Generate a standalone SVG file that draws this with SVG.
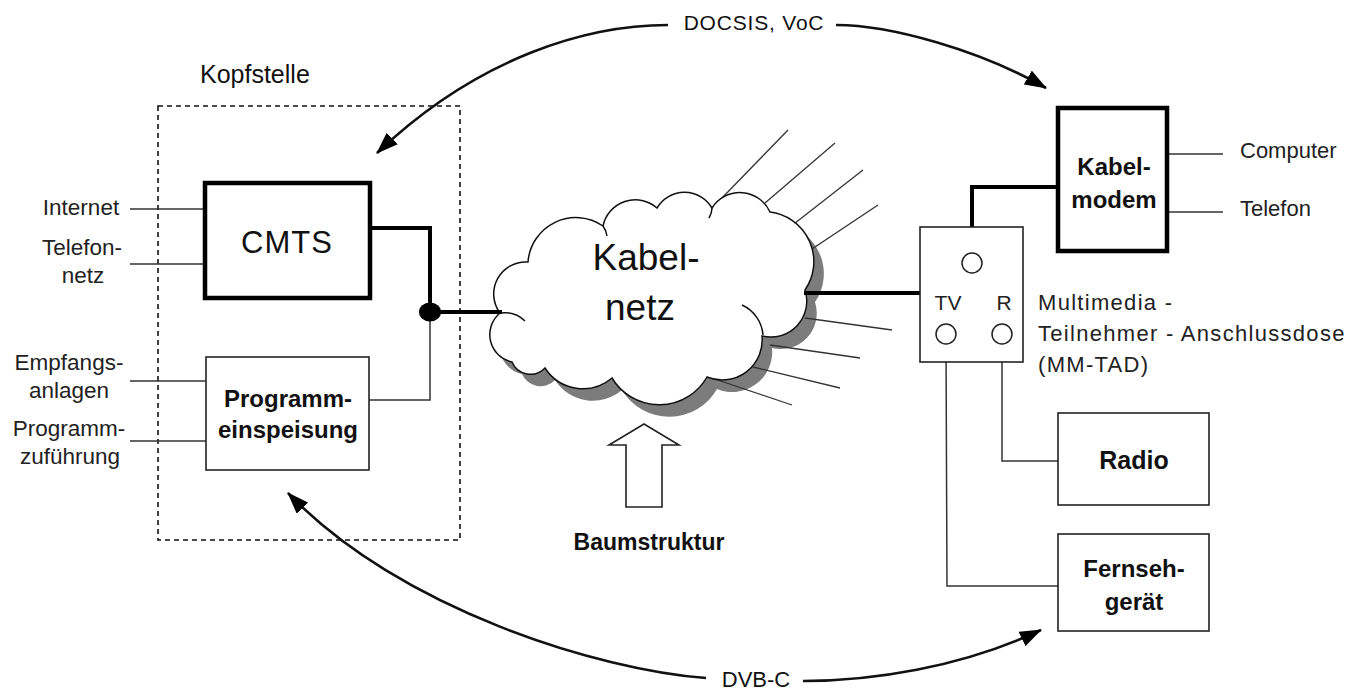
<svg xmlns="http://www.w3.org/2000/svg" width="1356" height="690" viewBox="0 0 1356 690">
<style>
text{font-family:"Liberation Sans",Arial,sans-serif;fill:#111}
.lbl{font-size:22.5px;text-anchor:middle;fill:#222}
.b{font-weight:bold;text-anchor:middle}
.thin{fill:none;stroke:#333;stroke-width:1.5}
.thick{fill:none;stroke:#000;stroke-width:4}
.box{fill:#fff;stroke:#222;stroke-width:1.6}
.tbox{fill:#fff;stroke:#000;stroke-width:4.5}
.ray{stroke:#333;stroke-width:1.3}
.arc{fill:none;stroke:#111;stroke-width:2.6;marker-end:url(#ah)}
</style>
<defs>
<marker id="ah" markerUnits="userSpaceOnUse" markerWidth="22" markerHeight="16" refX="21" refY="8" orient="auto">
<path d="M0,0 L22,8 L0,16 z" fill="#000"/>
</marker>
<path id="cloudShape" d="M512,362 A28,28 0 0 1 500,313 A32,32 0 0 1 528,262 A48,48 0 0 1 603,226 A33,33 0 0 1 657,208 A32,32 0 0 1 712,208 A33,33 0 0 1 770,212 A50,50 0 0 1 805,290 A36,36 0 0 1 762,336 A40,40 0 0 1 707,377 A55,55 0 0 1 612,378 A45,45 0 0 1 545,368 A20,20 0 0 1 512,362 Z"/>
</defs>

<rect fill="#fff" x="0" y="0" width="1356" height="690"/>

<!-- Kopfstelle -->
<g id="kopfstelle">
<rect x="158" y="106" width="302" height="434" fill="none" stroke="#111" stroke-width="1.6" stroke-dasharray="5 4"/>
<text x="200" y="83" style="font-size:25px">Kopfstelle</text>
</g>

<!-- Cloud -->
<g id="kabelnetz">
<use href="#cloudShape" transform="translate(10,12)" fill="#7c7c7c"/>
<g class="ray">
<line x1="720" y1="200" x2="788" y2="130"/>
<line x1="765" y1="203" x2="835" y2="143"/>
<line x1="790" y1="227" x2="863" y2="170"/>
<line x1="800" y1="257" x2="878" y2="205"/>
<line x1="805" y1="318" x2="892" y2="330"/>
<line x1="770" y1="345" x2="860" y2="358"/>
<line x1="753" y1="367" x2="840" y2="388"/>
<line x1="703" y1="375" x2="792" y2="405"/>
</g>
<use href="#cloudShape" fill="#fff" stroke="#111" stroke-width="1.5"/>
<path d="M500,313 A30,30 0 0 1 525,321 M742,305 A36,36 0 0 1 763,335 M603,226 A20,20 0 0 1 607,236 M712,208 A20,20 0 0 1 709,218" fill="none" stroke="#111" stroke-width="1.5"/>
<text class="b" x="646" y="270" style="font-size:37px;font-weight:normal">Kabel-</text>
<text class="b" x="640" y="320" style="font-size:37px;font-weight:normal">netz</text>
</g>

<!-- Baumstruktur arrow -->
<g id="baumstruktur">
<path d="M644,424 L679,445 L662,445 L662,507 L626,507 L626,445 L609,445 Z" fill="#fff" stroke="#222" stroke-width="1.6"/>
<text class="b" x="649" y="550" style="font-size:23px">Baumstruktur</text>
</g>

<!-- Connectors -->
<g id="connectors">
<line class="thin" x1="130" y1="209" x2="205" y2="209"/>
<line class="thin" x1="130" y1="264" x2="205" y2="264"/>
<line class="thin" x1="130" y1="381" x2="206" y2="381"/>
<line class="thin" x1="130" y1="441" x2="206" y2="441"/>
<path class="thick" d="M370,228 H430 V312 H502"/>
<path class="thin" d="M369,400 H430 V312"/>
<ellipse cx="430" cy="312" rx="11" ry="9.5" fill="#000"/>
<line class="thick" x1="804" y1="293" x2="920" y2="293"/>
<path class="thick" d="M972,253 V187 H1058"/>
<line class="thin" x1="1167" y1="154" x2="1223" y2="154"/>
<line class="thin" x1="1167" y1="212" x2="1223" y2="212"/>
<path class="thin" d="M1002,344 V461 H1058"/>
<path class="thin" d="M946,344 L947,586 H1058"/>
<path class="arc" d="M668,25 C590,25 480,55 377,153"/>
<path class="arc" d="M836,25 C890,25 980,50 1046,88"/>
<path class="arc" d="M706,678 C600,670 400,610 288,493"/>
<path class="arc" d="M803,681 C870,681 960,668 1041,630"/>
<text x="754" y="30" style="font-size:21px;text-anchor:middle;letter-spacing:0.8px">DOCSIS, VoC</text>
<text x="756" y="687" style="font-size:22px;text-anchor:middle">DVB-C</text>
</g>

<!-- CMTS -->
<g id="cmts">
<rect class="tbox" x="205" y="183" width="165" height="115"/>
<text x="287" y="253" style="font-size:31px;text-anchor:middle;letter-spacing:1px">CMTS</text>
</g>

<!-- Programmeinspeisung -->
<g id="programmeinspeisung">
<rect class="box" x="206" y="357" width="163" height="113"/>
<text class="b" x="288" y="407" style="font-size:24px">Programm-</text>
<text class="b" x="288" y="438" style="font-size:24px">einspeisung</text>
</g>

<!-- Left labels -->
<g id="labels-left">
<text class="lbl" x="81" y="215">Internet</text>
<text class="lbl" x="82" y="255">Telefon-</text>
<text class="lbl" x="83" y="283">netz</text>
<text class="lbl" x="69" y="370">Empfangs-</text>
<text class="lbl" x="69" y="398">anlagen</text>
<text class="lbl" x="69" y="436">Programm-</text>
<text class="lbl" x="70" y="464">zuführung</text>
</g>

<!-- MM-TAD -->
<g id="mmtad">
<rect class="box" x="920" y="227" width="103" height="135"/>
<circle cx="972" cy="263" r="10" fill="#fff" stroke="#222" stroke-width="1.5"/>
<circle cx="946" cy="334" r="10" fill="#fff" stroke="#222" stroke-width="1.5"/>
<circle cx="1002" cy="334" r="10" fill="#fff" stroke="#222" stroke-width="1.5"/>
<text x="948" y="310" style="font-size:21px;text-anchor:middle;fill:#222">TV</text>
<text x="1004" y="310" style="font-size:21px;text-anchor:middle;fill:#222">R</text>
<text x="1038" y="310" style="font-size:22px;letter-spacing:1.3px;fill:#222">Multimedia -</text>
<text x="1038" y="341" style="font-size:22px;letter-spacing:1.3px;fill:#222">Teilnehmer - Anschlussdose</text>
<text x="1038" y="372" style="font-size:22px;letter-spacing:1.3px;fill:#222">(MM-TAD)</text>
</g>

<!-- Kabelmodem -->
<g id="kabelmodem">
<rect class="tbox" x="1058" y="108" width="109" height="143"/>
<text class="b" x="1114" y="175" style="font-size:24px">Kabel-</text>
<text class="b" x="1114" y="208" style="font-size:24px">modem</text>
<text x="1240" y="158" style="font-size:22px;fill:#222">Computer</text>
<text x="1240" y="216" style="font-size:22px;fill:#222">Telefon</text>
</g>

<!-- Radio -->
<g id="radio">
<rect class="box" x="1058" y="413" width="151" height="92"/>
<text class="b" x="1134" y="469" style="font-size:25px">Radio</text>
</g>

<!-- Fernsehgeraet -->
<g id="fernsehgeraet">
<rect class="box" x="1058" y="534" width="151" height="97"/>
<text class="b" x="1134" y="577" style="font-size:24px">Fernseh-</text>
<text class="b" x="1134" y="610" style="font-size:24px">gerät</text>
</g>
</svg>
